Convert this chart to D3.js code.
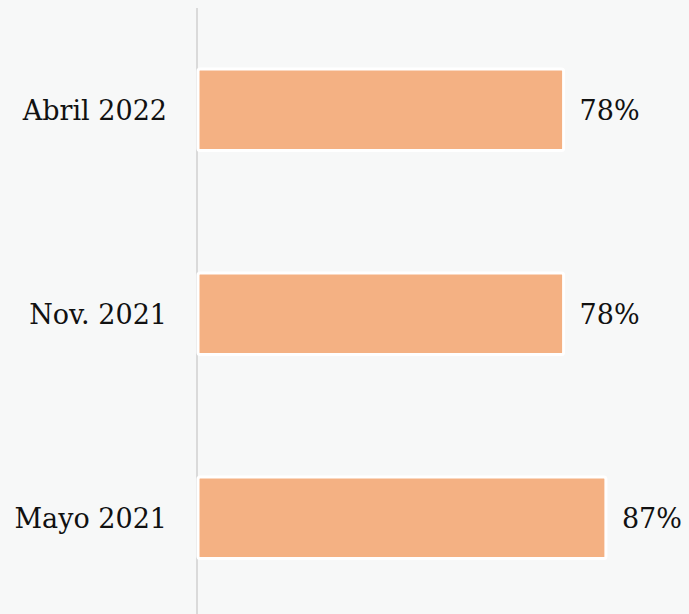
<!DOCTYPE html>
<html><head><meta charset="utf-8">
<script src="https://cdn.jsdelivr.net/npm/d3@7"></script>
<style>html,body{margin:0;padding:0;background:#f7f8f8;}svg{display:block;}</style>
</head><body>
<svg id="c" width="689" height="614"></svg>
<script>
const categories = ["Abril 2022", "Nov. 2021", "Mayo 2021"];
const values = [78, 78, 87];

const W = 689, H = 614;
const svg = d3.select("#c");
svg.append("rect").attr("width", W).attr("height", H).attr("fill", "#f7f8f8");

const x = d3.scaleLinear().domain([0, 100]).range([197, 667]);
const y = d3.scaleBand().domain(categories).range([7.8, 619.8]).paddingInner(0.6).paddingOuter(0.3);

svg.append("line").attr("x1", 197).attr("x2", 197).attr("y1", 8).attr("y2", H)
  .attr("stroke", "#dadada").attr("stroke-width", 2);

svg.selectAll("rect.bar").data(categories).join("rect").attr("class", "bar")
  .attr("x", x(0) + 1).attr("y", d => y(d))
  .attr("width", (d, i) => x(values[i]) - x(0) - 1).attr("height", y.bandwidth())
  .attr("rx", 2)
  .attr("fill", "#f4b183").attr("stroke", "#ffffff").attr("stroke-width", 3);

const font = "'DejaVu Serif', serif";
svg.selectAll("text.cat").data(categories).join("text").attr("class", "cat")
  .attr("x", 167).attr("y", d => y(d) + y.bandwidth() / 2).attr("dy", "0.36em")
  .attr("text-anchor", "end").attr("font-family", font).attr("font-size", 27)
  .attr("fill", "#111").text(d => d);

svg.selectAll("text.val").data(categories).join("text").attr("class", "val")
  .attr("x", (d, i) => x(values[i]) + 16).attr("y", d => y(d) + y.bandwidth() / 2).attr("dy", "0.36em")
  .attr("font-family", font).attr("font-size", 27)
  .attr("fill", "#111").text((d, i) => values[i] + "%");
</script>
</body></html>
